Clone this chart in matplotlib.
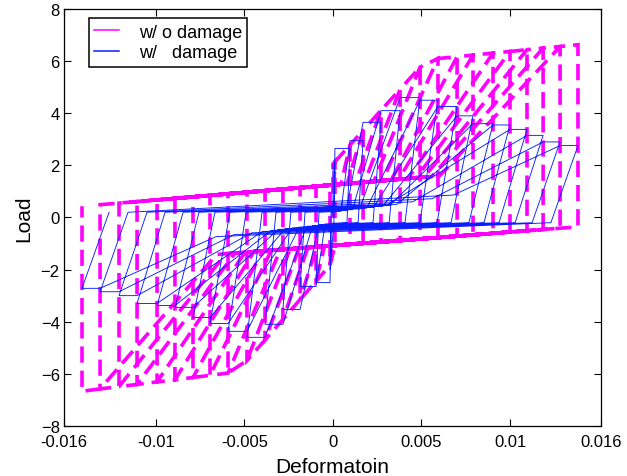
import matplotlib
matplotlib.use("Agg")
import matplotlib.pyplot as plt
from matplotlib.lines import Line2D

plt.rcParams['font.family'] = ['Liberation Sans', 'DejaVu Sans']

# Peak deformation of each loading cycle (positive and negative excursions)
pos_d = [0.00011, 0.00096, 0.00170, 0.00271, 0.00379, 0.00492, 0.00593, 0.00701,
         0.00791, 0.00904, 0.01000, 0.01096, 0.01187, 0.01283, 0.01384]
neg_d = [0.00017, 0.00096, 0.00186, 0.00283, 0.00384, 0.00486, 0.00593, 0.00695,
         0.00791, 0.00893, 0.00994, 0.01107, 0.01209, 0.01316, 0.01418]

# ---- w/o damage ----
nd_initial_load = 2.06
nd_pos_load = [2.14, 2.78, 3.34, 4.11, 4.92, 5.77, 6.10, 6.17, 6.23, 6.31, 6.37, 6.44, 6.50, 6.56, 6.63]
nd_pos_unload = [-1.07, -1.03, -0.99, -0.94, -0.88, -0.82, -0.77, -0.72, -0.67, -0.61,
                 -0.56, -0.51, -0.46, -0.41, -0.36]
nd_neg_load = [-1.83, -2.45, -3.15, -3.91, -4.70, -5.49, -5.97, -6.06, -6.14, -6.23,
               -6.31, -6.41, -6.49, -6.58, -6.67]
nd_neg_unload = [1.24, 1.19, 1.14, 1.09, 1.03, 0.97, 0.91, 0.85, 0.79, 0.73,
                 0.67, 0.61, 0.55, 0.49, 0.43]
# reloading start points (cycles 2..15)
nd_pos_rx = [0.00005, 0.00045, 0.00080, 0.00127, 0.00178, 0.00231, 0.00279, 0.00329,
             0.00372, 0.00425, 0.00470, 0.00515, 0.00558, 0.00603]
nd_pos_ry = [1.25, 1.28, 1.30, 1.32, 1.35, 1.38, 1.41, 1.44, 1.47, 1.50, 1.52, 1.55, 1.57, 1.60]
nd_neg_rx = [-0.00009, -0.00048, -0.00093, -0.00142, -0.00192, -0.00243, -0.00297,
             -0.00348, -0.00396, -0.00447, -0.00497, -0.00554, -0.00605, -0.00658]
nd_neg_ry = [-1.08, -1.10, -1.13, -1.15, -1.18, -1.21, -1.23, -1.26, -1.29, -1.31,
             -1.34, -1.37, -1.39, -1.42]

# ---- w/ damage ----
dm_initial_load = 2.0
dm_pos_load = [2.10, 2.65, 2.95, 3.65, 4.10, 4.60, 4.50, 4.26, 3.90, 3.60, 3.55, 3.38, 3.15, 2.90, 2.76]
dm_neg_load = [-2.00, -2.50, -2.65, -3.53, -4.10, -4.60, -4.37, -4.07, -3.84, -3.45,
               -3.38, -3.30, -3.00, -2.85, -2.72]
dm_pos_ux = [0.00005, 0.00079, 0.00142, 0.00226, 0.00317, 0.00407, 0.00491, 0.00588,
             0.00667, 0.00768, 0.00853, 0.00938, 0.01029, 0.01125, 0.01231]
dm_neg_ux = [-0.00011, -0.00079, -0.00158, -0.00238, -0.00322, -0.00401, -0.00491,
             -0.00582, -0.00667, -0.00757, -0.00847, -0.00949, -0.01051, -0.01158, -0.01265]
dm_pos_uy = -0.2
dm_neg_uy = 0.2
dm_pos_rx = [0.00006, 0.00045, 0.00075, 0.00110, 0.00150, 0.00190, 0.00230, 0.00280,
             0.00320, 0.00360, 0.00310, 0.00450, 0.00560, 0.00680]
dm_pos_ry = [0.206, 0.240, 0.270, 0.300, 0.330, 0.360, 0.390, 0.430, 0.460, 0.500,
             0.500, 0.600, 0.720, 0.860]
dm_neg_rx = [-0.00009, -0.00045, -0.00080, -0.00115, -0.00150, -0.00190, -0.00230,
             -0.00270, -0.00310, -0.00350, -0.00400, -0.00460, -0.00560, -0.00660]
dm_neg_ry = [-0.225, -0.250, -0.280, -0.310, -0.340, -0.370, -0.400, -0.430, -0.460,
             -0.500, -0.540, -0.590, -0.660, -0.735]

x_ticks = [-0.0152, -0.01, -0.005, 0.0, 0.005, 0.01, 0.01514]
x_tick_labels = ['-0.016', '-0.01', '-0.005', '0', '0.005', '0.01', '0.016']
y_ticks = [-8, -6, -4, -2, 0, 2, 4, 6, 8]


def path_without_damage():
    x, y = [0.0, 0.0], [0.0, nd_initial_load]
    for k in range(len(pos_d)):
        if k > 0:
            x += [nd_pos_rx[k - 1], pos_d[k - 1]]
            y += [nd_pos_ry[k - 1], nd_pos_load[k - 1]]
        x += [pos_d[k], pos_d[k]]
        y += [nd_pos_load[k], nd_pos_unload[k]]
        if k > 0:
            x += [nd_neg_rx[k - 1], -neg_d[k - 1]]
            y += [nd_neg_ry[k - 1], nd_neg_load[k - 1]]
        x += [-neg_d[k], -neg_d[k]]
        y += [nd_neg_load[k], nd_neg_unload[k]]
    return x, y


def path_with_damage():
    x, y = [0.0, 0.0], [0.0, dm_initial_load]
    for k in range(len(pos_d)):
        if k > 0:
            x += [dm_pos_rx[k - 1], pos_d[k - 1]]
            y += [dm_pos_ry[k - 1], dm_pos_load[k]]
        x += [pos_d[k], dm_pos_ux[k]]
        y += [dm_pos_load[k], dm_pos_uy]
        if k > 0:
            x += [dm_neg_rx[k - 1], -neg_d[k - 1]]
            y += [dm_neg_ry[k - 1], dm_neg_load[k]]
        x += [-neg_d[k], dm_neg_ux[k]]
        y += [dm_neg_load[k], dm_neg_uy]
    return x, y


fig = plt.figure(figsize=(6.27, 4.77), dpi=100)
ax = fig.add_axes([0.102, 0.105, 0.8565, 0.874])

magenta = '#ff00ff'
blue = '#0a1eff'

xn, yn = path_without_damage()
ax.plot(xn, yn, color=magenta, lw=2.6, dashes=(4.5, 2.2), solid_joinstyle='miter',
        dash_joinstyle='miter', zorder=2)
xd, yd = path_with_damage()
ax.plot(xd, yd, color=blue, lw=0.65, zorder=3)

ax.set_xlim(x_ticks[0], x_ticks[-1])
ax.set_ylim(-8, 8)
ax.set_xticks(x_ticks)
ax.set_xticklabels(x_tick_labels)
ax.set_yticks(y_ticks)
ax.tick_params(direction='in', length=5, width=0.8, top=True, right=True,
               labelsize=12)
ax.tick_params(axis='x', pad=5.5)
ax.tick_params(axis='y', pad=3)
for s in ax.spines.values():
    s.set_linewidth(0.9)

ax.set_xlabel('Deformatoin', fontsize=15, labelpad=6)
ax.set_ylabel('Load', fontsize=15, labelpad=5)

handles = [Line2D([0], [0], color=magenta, lw=1.1),
           Line2D([0], [0], color=blue, lw=1.1)]
leg = ax.legend(handles, ['w/ o damage', 'w/   damage'], loc='upper left',
                bbox_to_anchor=(0.0466, 0.978), borderaxespad=0, fancybox=False,
                framealpha=1, edgecolor='black', fontsize=13, handlelength=1.35,
                handletextpad=1.1, borderpad=0.3, labelspacing=0.2)
leg.get_frame().set_linewidth(1.1)

fig.savefig('out.png', dpi=100)
